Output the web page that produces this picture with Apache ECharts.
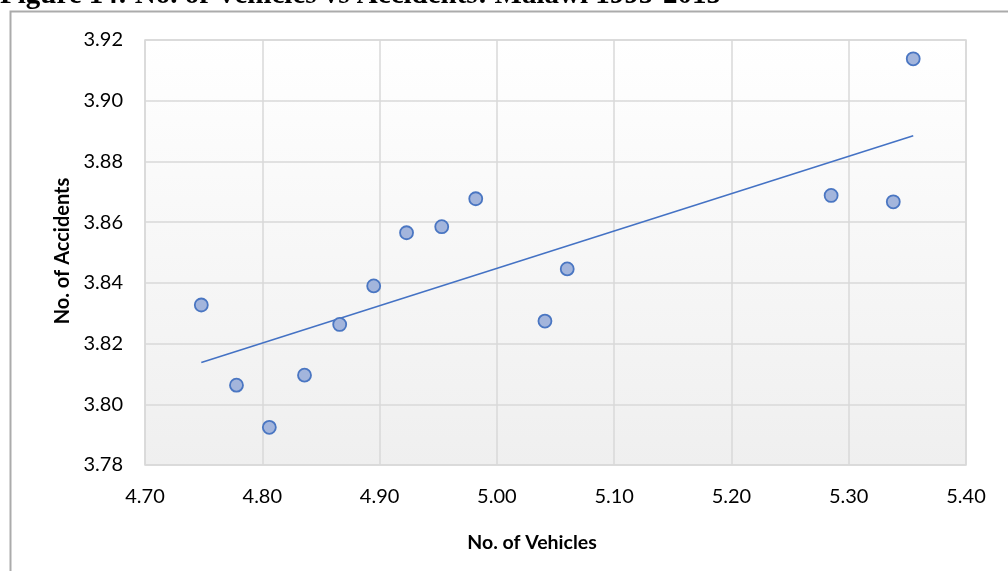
<!DOCTYPE html>
<html>
<head>
<meta charset="utf-8">
<script src="https://cdn.jsdelivr.net/npm/echarts@6/dist/echarts.min.js"></script>
<style>
html,body{margin:0;padding:0;background:#fff;}
#chart{width:1008px;height:571px;}
</style>
</head>
<body>
<div id="chart"></div>
<script>
// Data
const vehicles  = [4.748, 4.778, 4.806, 4.836, 4.866, 4.895, 4.923, 4.953, 4.982, 5.041, 5.060, 5.285, 5.338, 5.355];
const accidents = [3.8327, 3.8063, 3.7924, 3.8096, 3.8263, 3.8390, 3.8565, 3.8585, 3.8677, 3.8274, 3.8446, 3.8688, 3.8667, 3.9138];
const titleText = 'Figure 14: No. of Vehicles vs Accidents: Malawi 1995-2015';
const xTitle = 'No. of Vehicles';
const yTitle = 'No. of Accidents';

const points = vehicles.map((v, i) => [v, accidents[i]]);

// Linear least-squares trendline (as Excel draws it)
const n = vehicles.length;
const mx = vehicles.reduce((a, b) => a + b, 0) / n;
const my = accidents.reduce((a, b) => a + b, 0) / n;
let sxy = 0, sxx = 0;
for (let i = 0; i < n; i++) { sxy += (vehicles[i] - mx) * (accidents[i] - my); sxx += (vehicles[i] - mx) ** 2; }
const slope = sxy / sxx, icpt = my - slope * mx;
const xMin = Math.min(...vehicles), xMax = Math.max(...vehicles);
const trend = [[xMin, icpt + slope * xMin], [xMax, icpt + slope * xMax]];

const chart = echarts.init(document.getElementById('chart'));
const font = 'Lato, "Liberation Sans", sans-serif';
chart.setOption({
  animation: false,
  backgroundColor: '#ffffff',
  grid: {
    left: 145, right: 42, top: 40, bottom: 106,
    show: true,
    borderColor: '#D9D9D9', borderWidth: 1.5,
    backgroundColor: new echarts.graphic.LinearGradient(0, 0, 0, 1, [
      {offset: 0, color: '#FFFFFF'}, {offset: 1, color: '#EFEFEF'}
    ])
  },
  xAxis: {
    type: 'value', min: 4.7, max: 5.4, interval: 0.1,
    axisLine: {show: false}, axisTick: {show: false},
    axisLabel: {margin: 22, fontFamily: font, fontSize: 20, color: '#000',
      formatter: v => v.toFixed(2)},
    splitLine: {lineStyle: {color: '#D9D9D9', width: 1.5}}
  },
  yAxis: {
    type: 'value', min: 3.78, max: 3.92, interval: 0.02,
    axisLine: {show: false}, axisTick: {show: false},
    axisLabel: {margin: 22, fontFamily: font, fontSize: 20, color: '#000',
      formatter: v => v.toFixed(2)},
    splitLine: {lineStyle: {color: '#D9D9D9', width: 1.5}}
  },
  graphic: [
    {type: 'rect', silent: true, z: -1,
      shape: {x: 10.5, y: 11.5, width: 1200, height: 800},
      style: {fill: 'none', stroke: '#ABABAB', lineWidth: 2}},
    {type: 'text', left: 0, top: -19,
      style: {text: titleText, font: 'bold 29px "Liberation Serif", serif', fill: '#000'}},
    {type: 'text', x: 532, y: 543,
      style: {text: xTitle, font: 'bold 19.5px ' + font, fill: '#000', align: 'center', verticalAlign: 'middle'}},
    {type: 'text', x: 63, y: 251, rotation: Math.PI / 2,
      style: {text: yTitle, font: 'bold 20px ' + font, fill: '#000', align: 'center', verticalAlign: 'middle'}}
  ],
  series: [
    {type: 'line', data: trend, showSymbol: false, z: 2,
      lineStyle: {color: '#4472C4', width: 1.5}},
    {type: 'scatter', data: points, symbolSize: 13, z: 3,
      itemStyle: {color: '#A3B5DC', borderColor: '#4A76C2', borderWidth: 1.8, opacity: 1}}
  ]
});
</script>
</body>
</html>
